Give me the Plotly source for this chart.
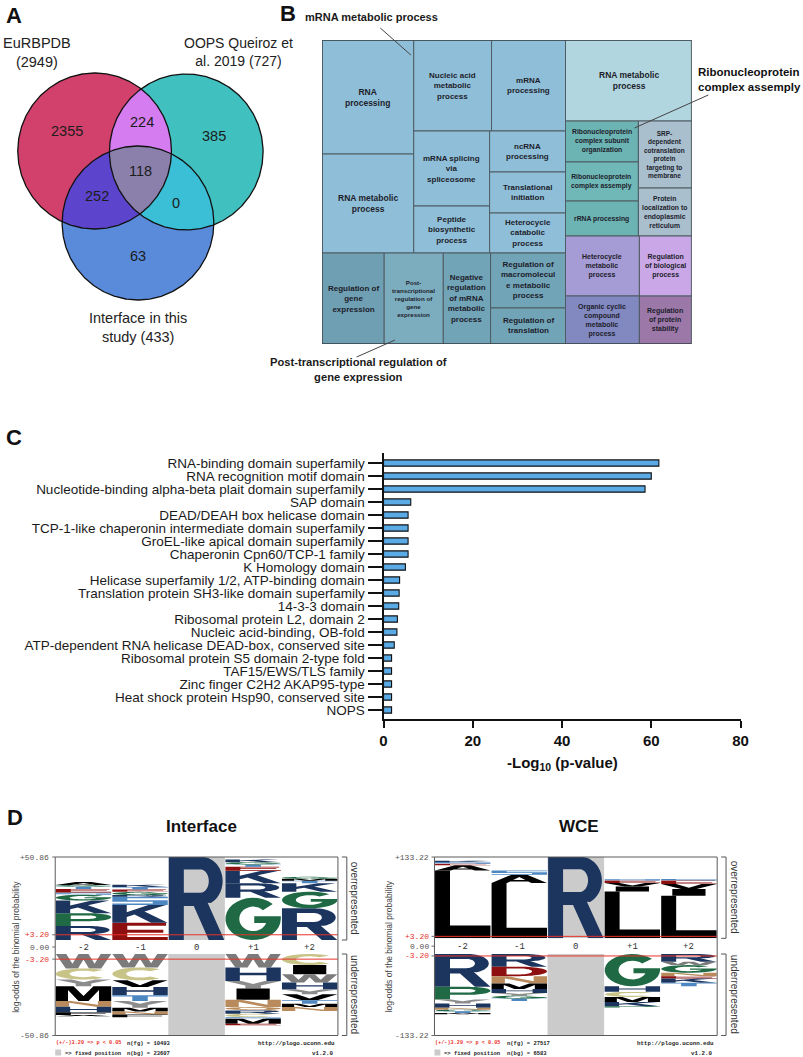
import numpy as np
import plotly.graph_objects as go

W, H = 803, 1057
FONT = "Liberation Sans, Arial, sans-serif"
MONO = "Liberation Mono, DejaVu Sans Mono, monospace"

# ======================= DATA =======================
# ---- Panel A: Venn ----
VENN_SET_LABELS = ["EuRBPDB<br>(2949)", "OOPS Queiroz et<br>al. 2019 (727)", "Interface in this<br>study (433)"]
VENN_REGIONS = ["A", "B", "C", "AB", "AC", "BC", "ABC"]
VENN_COUNTS = [2355, 385, 63, 224, 252, 0, 118]

# ---- Panel B: REVIGO treemap ----
TM_NAMES = [
    "RNA<br>processing", "RNA metabolic<br>process", "Nucleic acid<br>metabolic<br>process",
    "mRNA<br>processing", "mRNA splicing<br>via<br>spliceosome", "Peptide<br>biosynthetic<br>process",
    "ncRNA<br>processing", "Translational<br>initiation", "Heterocycle<br>catabolic<br>process",
    "Regulation of<br>gene<br>expression",
    "Post-<br>transcriptional<br>regulation of<br>gene<br>expression",
    "Negative<br>regulation<br>of mRNA<br>metabolic<br>process",
    "Regulation of<br>macromolecul<br>e metabolic<br>process", "Regulation of<br>translation",
    "RNA metabolic<br>process",
    "Ribonucleoprotein<br>complex subunit<br>organization", "Ribonucleoprotein<br>complex assemply",
    "rRNA processing",
    "SRP-<br>dependent<br>cotranslation<br>protein<br>targeting to<br>membrane",
    "Protein<br>localization to<br>endoplasmic<br>reticulum",
    "Heterocycle<br>metabolic<br>process", "Organic cyclic<br>compound<br>metabolic<br>process",
    "Regulation<br>of biological<br>process", "Regulation<br>of protein<br>stability",
]
TM_SIZES = [10600, 9200, 7190, 6830, 5780, 3620, 3160, 3160, 3080,
            5730, 5460, 4370, 4180, 2740,
            10370, 3030, 2890, 2590, 3620, 2590, 4500, 3600, 3180, 2540]
TM_CALLOUTS = ["mRNA metabolic process", "Ribonucleoprotein<br>complex assemply",
               "Post-transcriptional regulation of<br>gene expression"]

# ---- Panel C: InterPro domains ----
DOMAINS = [
    "RNA-binding domain superfamily", "RNA recognition motif domain",
    "Nucleotide-binding alpha-beta plait domain superfamily", "SAP domain",
    "DEAD/DEAH box helicase domain", "TCP-1-like chaperonin intermediate domain superfamily",
    "GroEL-like apical domain superfamily", "Chaperonin Cpn60/TCP-1 family",
    "K Homology domain", "Helicase superfamily 1/2, ATP-binding domain",
    "Translation protein SH3-like domain superfamily", "14-3-3 domain",
    "Ribosomal protein L2, domain 2", "Nucleic acid-binding, OB-fold",
    "ATP-dependent RNA helicase DEAD-box, conserved site",
    "Ribosomal protein S5 domain 2-type fold", "TAF15/EWS/TLS family",
    "Zinc finger C2H2 AKAP95-type", "Heat shock protein Hsp90, conserved site", "NOPS",
]
NEG_LOG10_P = [61.7, 60.0, 58.6, 6.1, 5.5, 5.5, 5.5, 5.5, 4.9, 3.6,
               3.5, 3.4, 3.1, 3.0, 2.4, 1.8, 1.8, 1.8, 1.8, 1.8]
C_XTICKS = [0, 20, 40, 60, 80]

# ---- Panel D: pLogo letter stacks (positions -2..+2) ----
POSITIONS = ["-2", "-1", "0", "+1", "+2"]
IF_OVER_LETTERS = [list("RPKGSETGA"), list("EKSRGETK"), list("R"), list("GRKETGK"), list("RGKTMG")]
IF_OVER_HEIGHTS = [[8.6, 7.8, 7.8, 3.5, 1.4, 2.2, 1.4, 1.0, 1.8],
                   [10.6, 10.8, 5.1, 1.0, 2.0, 1.4, 1.6, 1.4],
                   [50.86],
                   [25.9, 8.8, 7.8, 2.4, 1.4, 1.4, 1.6],
                   [19.4, 10.2, 5.1, 1.6, 1.2, 1.2]]
IF_UNDER_LETTERS = [list("WCYMNHFA"), list("WCVHTYMNF"), [], list("WHYINQRCSME"), list("CIWHYVTMN")]
IF_UNDER_HEIGHTS = [[9.0, 6.9, 4.2, 9.2, 3.6, 3.4, 1.7, 0.8],
                    [8.4, 8.0, 4.2, 5.2, 3.6, 4.2, 2.3, 1.9, 1.7],
                    [],
                    [8.4, 8.4, 4.8, 6.9, 4.6, 2.1, 2.1, 2.1, 1.0, 3.1, 1.0],
                    [6.9, 5.7, 5.2, 4.4, 2.9, 3.8, 2.1, 2.1, 2.5]]
IF_YMAX = 50.86
IF_NFG, IF_NBG = 10493, 23607

WCE_OVER_LETTERS = [list("LAESK"), list("LAS"), list("R"), list("LIVES"), list("LIVES")]
WCE_OVER_HEIGHTS = [[111.3, 8.2, 2.7, 2.7, 2.2],
                    [90.5, 13.7, 7.1],
                    [133.22],
                    [76.8, 8.2, 5.5, 4.4, 2.2],
                    [69.6, 11.0, 8.2, 6.0, 2.2]]
WCE_UNDER_LETTERS = [list("RPYHNGTM"), list("RDNMHYGT"), [], list("GHCMKP"), list("RWGNEKT")]
WCE_UNDER_HEIGHTS = [[53.7, 20.8, 6.6, 6.6, 3.3, 2.7, 2.7, 2.2],
                     [20.8, 15.4, 12.1, 8.8, 6.6, 4.4, 4.9, 3.8],
                     [],
                     [52.6, 9.3, 8.2, 8.2, 7.1, 2.2],
                     [12.6, 5.5, 12.6, 5.5, 3.8, 7.1, 5.5]]
WCE_YMAX = 133.22
WCE_NFG, WCE_NBG = 27517, 6583
SIG = 3.20

# ======================= STYLE =======================
VENN_CIRCLES = [(92, 151, 78), (185, 152, 78), (136, 223, 77)]   # pixel canvas
VENN_COLORS = {"A": "#d1416b", "B": "#40c1c0", "C": "#5a8bdb", "AB": "#d47cf0",
               "AC": "#5c45cc", "BC": "#3bbfd6", "ABC": "#8a80ab"}
VENN_TEXT_POS = {"A": (64, 131), "B": (213, 136), "C": (136, 256), "AB": (140, 122),
                 "AC": (94, 196), "BC": (175, 203), "ABC": (139, 171)}

TM_TREE = ('h', [
    ('v', [
        ('h', [('v', [0, 1]),
               ('v', [('h', [2, 3]), ('h', [('v', [4, 5]), ('v', [6, 7, 8])])])]),
        ('h', [9, 10, 11, ('v', [12, 13])]),
    ]),
    ('v', [14, ('h', [('v', [15, 16, 17]), ('v', [18, 19])]),
           ('h', [('v', [20, 21]), ('v', [22, 23])])]),
])
TM_COLORS = ["#8fbfd8"] * 9 + ["#6f9fb2", "#7cadbf", "#71a4b7", "#71a4b7", "#71a4b7",
             "#b2d6df", "#6cb3b3", "#70b8b7", "#6cb3b3", "#a9bfcd", "#a9bfcd",
             "#a59bd5", "#8289c0", "#caa8e7", "#9b78a8"]
TM_FONTSIZE = [8.5, 8.5, 8, 8, 8, 8, 8, 8, 8, 8, 6.2, 8, 8, 8, 8.5,
               6.8, 6.8, 6.8, 6.5, 6.8, 7, 7, 7, 7]

AA_COLORS = {'R': '#1c355e', 'K': '#1c355e', 'H': '#1c355e', 'D': '#8e0f0f', 'E': '#8e0f0f',
             'G': '#1f6a44', 'P': '#1f6a44', 'S': '#4d87c2', 'T': '#4d87c2',
             'N': '#b98b5c', 'Q': '#b98b5c', 'C': '#c8c386', 'W': '#7b7b7b', 'Y': '#8c8c8c',
             'A': '#000000', 'V': '#000000', 'L': '#000000', 'I': '#000000', 'M': '#000000',
             'F': '#000000'}


# ---------------- glyph outlines (unit box, y up) ----------------
def arc(cx, cy, rx, ry, a0, a1, n=28):
    t = np.radians(np.linspace(a0, a1, n))
    return [(cx + rx * np.cos(a), cy + ry * np.sin(a)) for a in t]


GLYPHS = {
    'L': [[(0, 0), (1, 0), (1, .19), (.27, .19), (.27, 1), (0, 1)]],
    'E': [[(0, 0), (1, 0), (1, .18), (.27, .18), (.27, .42), (.92, .42), (.92, .59), (.27, .59),
           (.27, .82), (.97, .82), (.97, 1), (0, 1)]],
    'F': [[(0, 0), (.27, 0), (.27, .42), (.9, .42), (.9, .59), (.27, .59), (.27, .82), (1, .82),
           (1, 1), (0, 1)]],
    'T': [[(.36, 0), (.64, 0), (.64, .82), (1, .82), (1, 1), (0, 1), (0, .82), (.36, .82)]],
    'I': [[(.2, 0), (.8, 0), (.8, 1), (.2, 1)]],
    'H': [[(0, 0), (.26, 0), (.26, .42), (.74, .42), (.74, 0), (1, 0), (1, 1), (.74, 1), (.74, .6),
           (.26, .6), (.26, 1), (0, 1)]],
    'K': [[(0, 0), (.26, 0), (.26, .32), (.4, .46), (.7, 0), (1, 0), (.58, .63), (.97, 1), (.65, 1),
           (.26, .6), (.26, 1), (0, 1)]],
    'M': [[(0, 0), (.22, 0), (.22, .74), (.41, 0), (.59, 0), (.78, .74), (.78, 0), (1, 0), (1, 1),
           (.68, 1), (.5, .34), (.32, 1), (0, 1)]],
    'N': [[(0, 0), (.24, 0), (.24, .68), (.72, 0), (1, 0), (1, 1), (.76, 1), (.76, .32), (.28, 1), (0, 1)]],
    'V': [[(0, 1), (.27, 1), (.5, .28), (.73, 1), (1, 1), (.64, 0), (.36, 0)]],
    'W': [[(0, 1), (.19, 1), (.3, .32), (.41, 1), (.59, 1), (.7, .32), (.81, 1), (1, 1), (.82, 0),
           (.6, 0), (.5, .62), (.4, 0), (.18, 0)]],
    'Y': [[(0, 1), (.29, 1), (.5, .6), (.71, 1), (1, 1), (.64, .42), (.64, 0), (.36, 0), (.36, .42)]],
    'A': [[(0, 0), (.28, 0), (.34, .2), (.66, .2), (.72, 0), (1, 0), (.64, 1), (.36, 1)],
          [(.39, .36), (.61, .36), (.5, .72)]],
    'S': [[(0, 0), (1, 0), (1, .59), (.27, .59), (.27, .82), (1, .82), (1, 1), (0, 1), (0, .41),
           (.73, .41), (.73, .18), (0, .18)]],
    'C': [arc(.5, .5, .5, .5, 45, 315) + arc(.5, .5, .25, .29, 315, 45)],
    'G': [arc(.5, .5, .5, .5, 45, 360) + [(1, .56), (.52, .56), (.52, .4)] +
          arc(.5, .5, .25, .29, 340, 45)],
    'O': [arc(.5, .5, .5, .5, 0, 360, 40), arc(.5, .5, .25, .3, 0, 360, 40)],
    'Q': [arc(.5, .55, .5, .45, 0, 360, 40), arc(.5, .55, .25, .27, 0, 360, 40),
          [(.62, .2), (.8, .2), (1, 0), (.78, 0)]],
    'D': [[(0, 0), (.5, 0)] + arc(.5, .5, .5, .5, -90, 90) + [(0, 1)],
          [(.27, .18), (.5, .18)] + arc(.5, .5, .23, .32, -90, 90) + [(.27, .82)]],
    'P': [[(0, 0), (.27, 0), (.27, .38), (.62, .38)] + arc(.62, .69, .38, .31, -90, 90) + [(0, 1)],
          [(.27, .55), (.58, .55)] + arc(.58, .69, .15, .14, -90, 90) + [(.27, .83)]],
    'R': [[(0, 0), (.27, 0), (.27, .41), (.45, .41), (.72, 0), (1, 0), (.7, .45)] +
          arc(.6, .71, .37, .29, -65, 90) + [(0, 1)],
          [(.27, .57), (.57, .57)] + arc(.57, .71, .15, .14, -90, 90) + [(.27, .85)]],
}


def glyph_path(letter, x0, x1, y0, y1):
    parts = []
    for poly in GLYPHS[letter]:
        pts = [(x0 + u * (x1 - x0), y0 + v * (y1 - y0)) for u, v in poly]
        parts.append("M" + "L".join(f"{x:.4f},{y:.5f}" for x, y in pts) + "Z")
    return "".join(parts)


# ======================= FIGURE =======================
fig = go.Figure()
shapes, annos = [], []


def dx(a, b):
    return [a / W, b / W]


def dy(top, bottom):
    return [1 - bottom / H, 1 - top / H]


def txt(x, y, s, size=12, color="#1a1a1a", bold=False, ref=("x", "y"), xanchor="center",
        yanchor="middle", family=FONT, angle=0, align="center"):
    annos.append(dict(x=x, y=y, xref=ref[0], yref=ref[1], text=s, showarrow=False,
                      xanchor=xanchor, yanchor=yanchor, textangle=angle, align=align,
                      font=dict(size=size, color=color, family=family,
                                weight="bold" if bold else "normal")))


def cline(x0, y0, x1, y1, color="#333", width=1, ref=("x", "y"), layer="above"):
    shapes.append(dict(type="line", x0=x0, y0=y0, x1=x1, y1=y1, xref=ref[0], yref=ref[1],
                       line=dict(color=color, width=width), layer=layer))


# ---------------- Panel A: Venn (pixel canvas x/y) ----------------
def circle_pts(c, n):
    t = np.linspace(0, 2 * np.pi, n)
    return np.c_[c[0] + c[2] * np.cos(t), c[1] + c[2] * np.sin(t)]


def region_poly(cs):
    pts = []
    for i, c in enumerate(cs):
        P = circle_pts(c, 3000)
        m = np.ones(len(P), bool)
        for j, d in enumerate(cs):
            if j != i:
                m &= (P[:, 0] - d[0]) ** 2 + (P[:, 1] - d[1]) ** 2 <= d[2] ** 2 + 0.5
        pts.append(P[m])
    P = np.vstack(pts)
    cen = P.mean(0)
    P = P[np.argsort(np.arctan2(P[:, 1] - cen[1], P[:, 0] - cen[0]))]
    return P


idx = {"A": 0, "B": 1, "C": 2}
for reg in ["A", "B", "C", "AB", "AC", "BC", "ABC"]:
    cs = [VENN_CIRCLES[idx[k]] for k in reg]
    P = circle_pts(cs[0], 400) if len(cs) == 1 else region_poly(cs)
    fig.add_trace(go.Scatter(x=P[:, 0], y=P[:, 1], mode="lines", fill="toself",
                             fillcolor=VENN_COLORS[reg], line=dict(width=0),
                             hoverinfo="skip", xaxis="x", yaxis="y"))
for c in VENN_CIRCLES:
    P = circle_pts(c, 400)
    fig.add_trace(go.Scatter(x=P[:, 0], y=P[:, 1], mode="lines", line=dict(color="#111", width=1.3),
                             hoverinfo="skip", xaxis="x", yaxis="y"))
for reg, cnt in zip(VENN_REGIONS, VENN_COUNTS):
    x, y = VENN_TEXT_POS[reg]
    txt(x, y, str(cnt), size=14.5, color="#1c1c1c")
txt(33, 52, VENN_SET_LABELS[0], size=14.5, color="#222")
txt(238, 52, VENN_SET_LABELS[1], size=14, color="#222")
txt(136, 327, VENN_SET_LABELS[2], size=14.5, color="#222")

# panel letters
txt(10, 15, "A", size=22, bold=True, color="#111")
txt(288, 13, "B", size=22, bold=True, color="#111")
txt(10, 437, "C", size=22, bold=True, color="#111")
txt(11, 817, "D", size=22, bold=True, color="#111")

# ---------------- Panel B: treemap (x2/y2, unit box) ----------------
def tree_sum(node):
    if isinstance(node, int):
        return TM_SIZES[node]
    return sum(tree_sum(k) for k in node[1])


def layout_tree(node, x0, y0, x1, y1, out):
    if isinstance(node, int):
        out[node] = (x0, y0, x1, y1)
        return
    orient, kids = node
    tots = [tree_sum(k) for k in kids]
    T = sum(tots)
    pos = x0 if orient == 'h' else y0
    for k, t in zip(kids, tots):
        if orient == 'h':
            w = (x1 - x0) * t / T
            layout_tree(k, pos, y0, pos + w, y1, out)
            pos += w
        else:
            h = (y1 - y0) * t / T
            layout_tree(k, x0, pos, x1, pos + h, out)
            pos += h


cells = {}
layout_tree(TM_TREE, 0, 0, 1, 1, cells)
for i in range(len(TM_NAMES)):
    x0, y0, x1, y1 = cells[i]
    shapes.append(dict(type="rect", xref="x2", yref="y2", x0=x0, x1=x1, y0=y0, y1=y1,
                       fillcolor=TM_COLORS[i], line=dict(color="#4f5b62", width=1), layer="above"))
    txt((x0 + x1) / 2, (y0 + y1) / 2, TM_NAMES[i], size=TM_FONTSIZE[i], color="#1d1d2b",
        bold=True, ref=("x2", "y2"))
shapes.append(dict(type="rect", xref="x2", yref="y2", x0=0, x1=1, y0=0, y1=1,
                   line=dict(color="#3c474d", width=1.3), layer="above"))

# callouts (pixel canvas)
txt(373, 17, TM_CALLOUTS[0], size=11, bold=True, color="#1a1a1a")
cline(382, 28, 413, 55, color="#444", width=1)
txt(703, 79, TM_CALLOUTS[1], size=11.5, bold=True, color="#111", xanchor="left", align="left")
cline(715, 95, 640, 128, color="#444", width=1)
txt(360, 369, TM_CALLOUTS[2], size=11.2, bold=True, color="#1a1a1a")
cline(358, 357, 397, 340, color="#444", width=1)

# ---------------- Panel C: bar chart (x3/y3) ----------------
fig.add_trace(go.Bar(x=NEG_LOG10_P, y=list(range(len(DOMAINS))), orientation="h",
                     width=0.48, marker=dict(color="#5aaae6", line=dict(color="#111", width=1.1)),
                     xaxis="x3", yaxis="y3", hoverinfo="skip"))
txt(567, 763, "-Log<sub>10</sub> (p-value)", size=15, bold=True, color="#111")

# ---------------- Panel D: pLogos ----------------
LOGOS = [
    dict(name="Interface", L=52, R=339, top=857, ob=940, ut=954, bot=1035.5, xa="x4", yo="y4",
         yu="y5", ymax=IF_YMAX, OL=IF_OVER_LETTERS, OH=IF_OVER_HEIGHTS, UL=IF_UNDER_LETTERS,
         UH=IF_UNDER_HEIGHTS, nfg=IF_NFG, nbg=IF_NBG, tx=200, ytitle_x=12, nx=123),
    dict(name="WCE", L=437, R=724, top=857, ob=938.3, ut=954, bot=1035.5, xa="x6", yo="y6",
         yu="y7", ymax=WCE_YMAX, OL=WCE_OVER_LETTERS, OH=WCE_OVER_HEIGHTS, UL=WCE_UNDER_LETTERS,
         UH=WCE_UNDER_HEIGHTS, nfg=WCE_NFG, nbg=WCE_NBG, tx=584, ytitle_x=391, nx=509),
]
for lg in LOGOS:
    xa, yo, yu = lg["xa"], lg["yo"], lg["yu"]
    ymax = lg["ymax"]
    # fixed position column
    shapes.append(dict(type="rect", xref=xa, yref=yo, x0=-0.5, x1=0.5, y0=0, y1=ymax,
                       fillcolor="#cbcbcb", line=dict(width=0), layer="below"))
    shapes.append(dict(type="rect", xref=xa, yref=yu, x0=-0.5, x1=0.5, y0=-ymax, y1=0,
                       fillcolor="#cbcbcb", line=dict(width=0), layer="below"))
    for p in range(5):
        xc = p - 2
        cum = 0.0
        for let, h in zip(lg["OL"][p], lg["OH"][p]):
            shapes.append(dict(type="path", xref=xa, yref=yo,
                               path=glyph_path(let, xc - 0.49, xc + 0.49, cum, cum + h),
                               fillcolor=AA_COLORS[let], line=dict(width=0), layer="above"))
            cum += h
        cum = 0.0
        for let, h in zip(lg["UL"][p], lg["UH"][p]):
            shapes.append(dict(type="path", xref=xa, yref=yu,
                               path=glyph_path(let, xc - 0.49, xc + 0.49, -(cum + h), -cum),
                               fillcolor=AA_COLORS[let], line=dict(width=0), layer="above"))
            cum += h
        txt(lg["L"] + (lg["R"] - lg["L"]) * (p + 0.5) / 5, (lg["ob"] + lg["ut"]) / 2 + 0.5,
            POSITIONS[p], size=9, color="#333", family=MONO)
    # significance lines
    shapes.append(dict(type="line", xref=xa, yref=yo, x0=-2.5, x1=2.5, y0=SIG, y1=SIG,
                       line=dict(color="#e8332b", width=1), layer="above"))
    shapes.append(dict(type="line", xref=xa, yref=yu, x0=-2.5, x1=2.5, y0=-SIG, y1=-SIG,
                       line=dict(color="#e8332b", width=1), layer="above"))
    L, R, top, ob, ut, bot = lg["L"], lg["R"], lg["top"], lg["ob"], lg["ut"], lg["bot"]
    shapes.append(dict(type="rect", xref="x", yref="y", x0=L, x1=R, y0=top, y1=bot,
                       line=dict(color="#5a5a5a", width=1), layer="above"))
    # y labels and ticks
    ysig_o = ob - SIG / ymax * (ob - top)
    ysig_u = ut + SIG / ymax * (bot - ut)
    mid = (ob + ut) / 2
    for yy, s, col in [(top, f"+{ymax:.2f}", "#555"), (ysig_o, f"+{SIG:.2f}", "#e8332b"),
                       (mid, "0.00", "#555"), (ysig_u, f"-{SIG:.2f}", "#e8332b"),
                       (bot, f"-{ymax:.2f}", "#555")]:
        txt(L - 4, yy, s, size=8, color=col, family=MONO, xanchor="right")
        cline(L - 3, yy, L, yy, color="#666", width=1)
    txt(lg["ytitle_x"], mid, "log-odds of the binomial probability", size=8.5, color="#444",
        angle=-90)
    # right brackets
    xb = R + 9
    for a, b, s in [(top, ob, "overrepresented"), (ut, bot, "underrepresented")]:
        cline(xb, a, xb, b, color="#555", width=1)
        cline(xb - 5, a, xb, a, color="#555", width=1)
        cline(xb - 5, b, xb, b, color="#555", width=1)
        txt(xb + 8, (a + b) / 2, s, size=10, color="#333", angle=90)
    # title and footer
    txt(lg["tx"], 826, lg["name"], size=17, bold=True, color="#111")
    txt(L - 1, 1043, "(+/-)3.20 => p < 0.05", size=5.2, color="#e8332b", bold=True, family=MONO,
        xanchor="left")
    txt(lg["nx"], 1043, f"n(fg) = {lg['nfg']}", size=5.5, color="#222", bold=True, family=MONO,
        xanchor="left")
    txt(lg["nx"], 1053, f"n(bg) = {lg['nbg']}", size=5.5, color="#222", bold=True, family=MONO,
        xanchor="left")
    txt(R - 1, 1043, "http://plogo.uconn.edu", size=5.8, color="#222", bold=True, family=MONO,
        xanchor="right")
    txt(R - 3, 1053, "v1.2.0", size=5.8, color="#222", bold=True, family=MONO, xanchor="right")
    shapes.append(dict(type="rect", xref="x", yref="y", x0=L, x1=L + 6, y0=1049.5, y1=1055.5,
                       fillcolor="#cbcbcb", line=dict(width=0)))
    txt(L + 8, 1053, "=> fixed position", size=5.5, color="#222", bold=True, family=MONO,
        xanchor="left")

# dummy traces so each axis pair exists
for xa, ya in [("x2", "y2"), ("x4", "y4"), ("x4", "y5"), ("x6", "y6"), ("x6", "y7")]:
    fig.add_trace(go.Scatter(x=[None], y=[None], xaxis=xa, yaxis=ya, hoverinfo="skip"))

hidden = dict(visible=False, showgrid=False, zeroline=False, fixedrange=True)
fig.update_layout(
    width=W, height=H, margin=dict(l=0, r=0, t=0, b=0),
    paper_bgcolor="white", plot_bgcolor="rgba(0,0,0,0)", showlegend=False,
    font=dict(family=FONT),
    xaxis=dict(domain=[0, 1], range=[0, W], **hidden),
    yaxis=dict(domain=[0, 1], range=[H, 0], **hidden),
    xaxis2=dict(domain=dx(323, 698), range=[0, 1], anchor="y2", **hidden),
    yaxis2=dict(domain=dy(40, 344), range=[1, 0], anchor="x2", **hidden),
    xaxis3=dict(domain=dx(385.3, 747.7), range=[0, 80], anchor="y3", tickvals=C_XTICKS,
                ticks="outside", ticklen=7, tickwidth=2, tickcolor="#111", showline=True,
                linewidth=2, linecolor="#111", showgrid=False, zeroline=False,
                tickfont=dict(size=15, color="#111", weight="bold"), fixedrange=True),
    yaxis3=dict(domain=dy(453, 719), range=[19.69, -0.77], anchor="x3",
                tickmode="array", tickvals=list(range(len(DOMAINS))), ticktext=DOMAINS,
                ticks="outside", ticklen=14, tickwidth=1.8, tickcolor="#111", showline=True,
                linewidth=2, linecolor="#111", showgrid=False, zeroline=False,
                tickfont=dict(size=13.5, color="#1a1a1a"), fixedrange=True),
    xaxis4=dict(domain=dx(52, 339), range=[-2.5, 2.5], anchor="y4", **hidden),
    yaxis4=dict(domain=dy(857, 940), range=[0, IF_YMAX], anchor="x4", **hidden),
    yaxis5=dict(domain=dy(954, 1035.5), range=[-IF_YMAX, 0], anchor="x4", **hidden),
    xaxis6=dict(domain=dx(437, 724), range=[-2.5, 2.5], anchor="y6", **hidden),
    yaxis6=dict(domain=dy(857, 938.3), range=[0, WCE_YMAX], anchor="x6", **hidden),
    yaxis7=dict(domain=dy(954, 1035.5), range=[-WCE_YMAX, 0], anchor="x6", **hidden),
    shapes=shapes, annotations=annos,
)
fig.write_html("out.html", config={"displayModeBar": False},
               post_script="document.body.style.margin='0px';")
